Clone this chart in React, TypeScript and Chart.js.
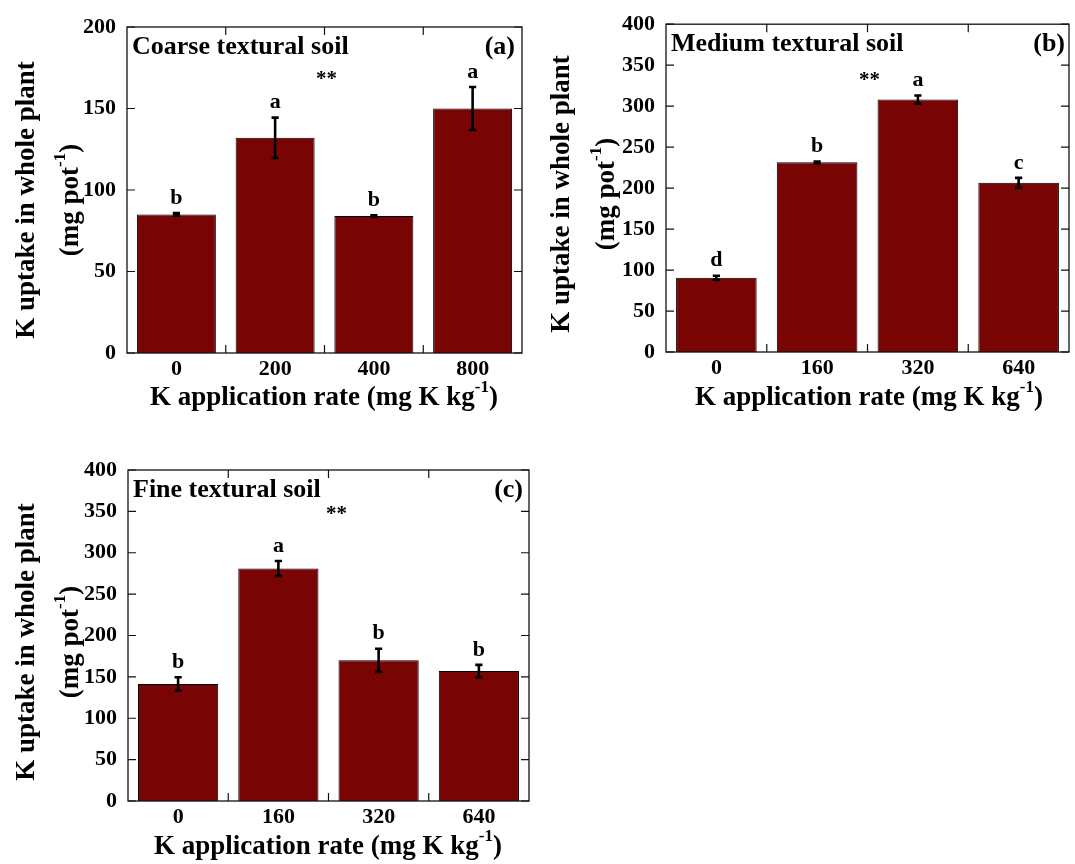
import React, { useEffect, useRef } from 'react';
import { Chart, registerables } from 'chart.js';

Chart.register(...registerables);

// ---------- data ----------
const coarseRates = ['0', '200', '400', '800'];
const coarseUptake = [85, 132, 84, 150];
const coarseError = [0.8, 12.4, 0.5, 13.2];
const coarseLetters = ['b', 'a', 'b', 'a'];

const mediumRates = ['0', '160', '320', '640'];
const mediumUptake = [90.5, 231.5, 308, 206.5];
const mediumError = [2.5, 1, 5, 6];
const mediumLetters = ['d', 'b', 'a', 'c'];

const fineRates = ['0', '160', '320', '640'];
const fineUptake = [141.5, 281, 170, 157];
const fineError = [8, 9, 14, 7.5];
const fineLetters = ['b', 'a', 'b', 'b'];

const coarseYMax = 200;
const mediumYMax = 400;
const fineYMax = 400;
const yStep = 50;

const coarseTitle = 'Coarse textural soil';
const mediumTitle = 'Medium textural soil';
const fineTitle = 'Fine textural soil';
const significance = '**';

// ---------- style ----------
const FONT = '"Liberation Serif", "Times New Roman", serif';
const BAR = 'rgb(120,4,4)';

type Part = { text: string; sup?: boolean };

const yTitle1: Part[] = [{ text: 'K uptake in whole plant' }];
const yTitle2: Part[] = [{ text: '(mg pot' }, { text: '-1', sup: true }, { text: ')' }];
const xTitle: Part[] = [{ text: 'K application rate (mg K kg' }, { text: '-1', sup: true }, { text: ')' }];

function drawRich(ctx: CanvasRenderingContext2D, parts: Part[], cx: number, cy: number, size: number) {
  const main = `bold ${size}px ${FONT}`;
  const sup = `bold ${Math.round(size * 0.62)}px ${FONT}`;
  let total = 0;
  const widths = parts.map((p) => {
    ctx.font = p.sup ? sup : main;
    const w = ctx.measureText(p.text).width;
    total += w;
    return w;
  });
  let x = cx - total / 2;
  ctx.textAlign = 'left';
  ctx.textBaseline = 'middle';
  parts.forEach((p, i) => {
    ctx.font = p.sup ? sup : main;
    ctx.fillText(p.text, x, p.sup ? cy - size * 0.38 : cy);
    x += widths[i];
  });
}

type Cfg = {
  left: number; top: number; w: number; h: number;
  area: { l: number; t: number; r: number; b: number };
  labels: string[]; values: number[]; errors: number[]; letters: string[];
  yMax: number; title: string; tag: string; tagOff: number;
  y1x: number; y2x: number; yTy: number; xTx: number; xTy: number;
  sigFrac: number; sigVal: number;
};

const panels: Cfg[] = [
  {
    left: 0, top: 0, w: 540, h: 430,
    area: { l: 127, t: 27, r: 522, b: 353 },
    labels: coarseRates, values: coarseUptake, errors: coarseError, letters: coarseLetters,
    yMax: coarseYMax, title: coarseTitle, tag: '(a)', tagOff: 7,
    y1x: 27, y2x: 71, yTy: 200, xTx: 324, xTy: 398,
    sigFrac: 0.505, sigVal: 167.5,
  },
  {
    left: 540, top: 0, w: 535, h: 430,
    area: { l: 126, t: 20, r: 529, b: 352 },
    labels: mediumRates, values: mediumUptake, errors: mediumError, letters: mediumLetters,
    yMax: mediumYMax, title: mediumTitle, tag: '(b)', tagOff: 4,
    y1x: 22, y2x: 67, yTy: 194, xTx: 329, xTy: 398,
    sigFrac: 0.505, sigVal: 331,
  },
  {
    left: 0, top: 440, w: 540, h: 424,
    area: { l: 128, t: 30, r: 529, b: 361 },
    labels: fineRates, values: fineUptake, errors: fineError, letters: fineLetters,
    yMax: fineYMax, title: fineTitle, tag: '(c)', tagOff: 6,
    y1x: 27, y2x: 71, yTy: 202, xTx: 328, xTy: 407,
    sigFrac: 0.52, sigVal: 345.6,
  },
];

function Panel({ cfg }: { cfg: Cfg }) {
  const ref = useRef<HTMLCanvasElement>(null);
  useEffect(() => {
    const decor = {
      id: 'decor',
      afterDraw(chart: any) {
        const { ctx, chartArea: a } = chart;
        const xs = chart.scales.x;
        const ys = chart.scales.y;
        ctx.save();
        ctx.strokeStyle = '#000';
        ctx.fillStyle = '#000';
        // error bars + letters
        cfg.values.forEach((v, i) => {
          const e = cfg.errors[i];
          const cx = xs.getPixelForValue(i);
          const yt = ys.getPixelForValue(v + e);
          const yb = ys.getPixelForValue(v - e);
          ctx.lineWidth = 2.6;
          ctx.beginPath();
          ctx.moveTo(cx, yt); ctx.lineTo(cx, yb);
          ctx.moveTo(cx - 3.6, yt); ctx.lineTo(cx + 3.6, yt);
          ctx.moveTo(cx - 3.6, yb); ctx.lineTo(cx + 3.6, yb);
          ctx.stroke();
          ctx.font = `bold 22px ${FONT}`;
          ctx.textAlign = 'center';
          ctx.textBaseline = 'middle';
          ctx.fillText(cfg.letters[i], cx, yt - 15);
        });
        // frame
        ctx.lineWidth = 1.3;
        ctx.strokeStyle = '#111';
        ctx.strokeRect(a.left, a.top, a.right - a.left, a.bottom - a.top);
        // inner y ticks on both sides
        ctx.lineWidth = 1.2;
        ys.ticks.forEach((t: any) => {
          const py = ys.getPixelForValue(t.value);
          ctx.beginPath();
          ctx.moveTo(a.left, py); ctx.lineTo(a.left + 8, py);
          ctx.moveTo(a.right - 8, py); ctx.lineTo(a.right, py);
          ctx.stroke();
        });
        // category boundary ticks top & bottom
        for (let i = 0; i < cfg.labels.length - 1; i++) {
          const bx = (xs.getPixelForValue(i) + xs.getPixelForValue(i + 1)) / 2;
          ctx.beginPath();
          ctx.moveTo(bx, a.top); ctx.lineTo(bx, a.top + 8);
          ctx.moveTo(bx, a.bottom); ctx.lineTo(bx, a.bottom - 8);
          ctx.stroke();
        }
        // panel title and tag
        ctx.fillStyle = '#000';
        ctx.font = `bold 26px ${FONT}`;
        ctx.textBaseline = 'middle';
        ctx.textAlign = 'left';
        ctx.fillText(cfg.title, a.left + 5, a.top + 20);
        ctx.textAlign = 'right';
        ctx.fillText(cfg.tag, a.right - cfg.tagOff, a.top + 20);
        // significance
        ctx.font = `bold 21px ${FONT}`;
        ctx.textAlign = 'center';
        ctx.fillText(significance, a.left + (a.right - a.left) * cfg.sigFrac, ys.getPixelForValue(cfg.sigVal));
        // axis titles
        drawRich(ctx, xTitle, cfg.xTx, cfg.xTy, 27);
        ctx.save();
        ctx.translate(cfg.y1x, cfg.yTy);
        ctx.rotate(-Math.PI / 2);
        drawRich(ctx, yTitle1, 0, 0, 27);
        ctx.restore();
        ctx.save();
        ctx.translate(cfg.y2x, cfg.yTy);
        ctx.rotate(-Math.PI / 2);
        drawRich(ctx, yTitle2, 0, 0, 27);
        ctx.restore();
        ctx.restore();
      },
    };

    const tickFont = { family: FONT, size: 22, weight: 'bold' as const };
    const chart = new Chart(ref.current!, {
      type: 'bar',
      data: {
        labels: cfg.labels,
        datasets: [
          {
            data: cfg.values,
            backgroundColor: BAR,
            borderColor: '#000',
            borderWidth: 1,
            barPercentage: 0.8,
            categoryPercentage: 1,
          },
        ],
      },
      options: {
        responsive: false,
        animation: false,
        devicePixelRatio: 1,
        layout: { padding: { left: 0, top: cfg.area.t, right: cfg.w - cfg.area.r, bottom: 0 } },
        plugins: { legend: { display: false }, tooltip: { enabled: false } },
        scales: {
          x: {
            grid: { display: false, drawTicks: false },
            border: { display: false },
            ticks: { font: tickFont, color: '#000', padding: 3, maxRotation: 0 },
            afterFit: (s: any) => { s.height = cfg.h - cfg.area.b; },
          },
          y: {
            min: 0,
            max: cfg.yMax,
            grid: { display: false, drawTicks: false },
            border: { display: false },
            ticks: { stepSize: yStep, font: tickFont, color: '#000', padding: 11 },
            afterFit: (s: any) => { s.width = cfg.area.l; },
          },
        },
      },
      plugins: [decor],
    });
    return () => chart.destroy();
  }, []);
  return (
    <canvas
      ref={ref}
      width={cfg.w}
      height={cfg.h}
      style={{ position: 'absolute', left: cfg.left, top: cfg.top, width: cfg.w, height: cfg.h }}
    />
  );
}

export default function App() {
  return (
    <div style={{ position: 'absolute', left: 0, top: 0, width: 1075, height: 864, background: '#fff' }}>
      {panels.map((p, i) => (
        <Panel key={i} cfg={p} />
      ))}
    </div>
  );
}
